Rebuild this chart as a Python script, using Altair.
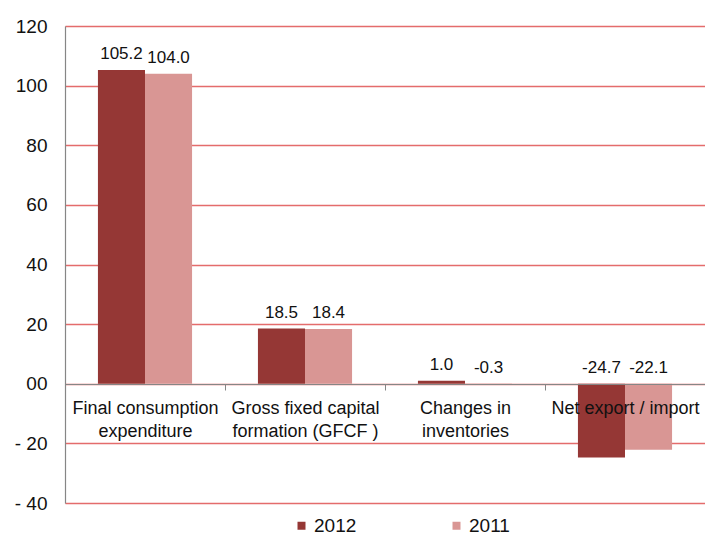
import altair as alt
import pandas as pd

categories = ["Final consumption|expenditure", "Gross fixed capital|formation (GFCF )",
              "Changes in|inventories", "Net export / import"]
years = ["2012", "2011"]
values_2012 = [105.2, 18.5, 1.0, -24.7]
values_2011 = [104.0, 18.4, -0.3, -22.1]

rows = []
for i, c in enumerate(categories):
    rows.append({"cat": c, "year": "2012", "value": values_2012[i]})
    rows.append({"cat": c, "year": "2011", "value": values_2011[i]})
df = pd.DataFrame(rows)

FONT = "Liberation Sans"
colors = ["#953735", "#D99694"]

x_enc = alt.X("cat:N", sort=categories,
              scale=alt.Scale(paddingInner=0, paddingOuter=0),
              axis=alt.Axis(title=None, labelAngle=0, labelExpr="split(datum.label, '|')",
                            labelFont=FONT, labelFontSize=18, labelColor="#111",
                            labelLineHeight=23, labelPadding=9, labelBaseline="top",
                            tickBand="extent", tickSize=6, tickColor="#868686",
                            domainColor="#868686", domainWidth=1.2,
                            offset=-119, zindex=1, grid=False))
xoff_enc = alt.XOffset("year:N", sort=years,
                       scale=alt.Scale(domain=years, paddingInner=0, paddingOuter=0.7))

bars = alt.Chart(df).mark_bar().encode(
    x=x_enc,
    xOffset=xoff_enc,
    y=alt.Y("value:Q",
            scale=alt.Scale(domain=[-40, 120], nice=False, zero=False),
            axis=alt.Axis(title=None, values=[-40, -20, 0, 20, 40, 60, 80, 100, 120],
                          labelExpr="datum.value == 0 ? '00' : (datum.value < 0 ? '- ' + abs(datum.value) : datum.label)",
                          labelFont=FONT, labelFontSize=19, labelColor="#111",
                          labelPadding=18, ticks=False,
                          domainColor="#868686", domainWidth=1.2,
                          grid=True, gridColor="#E46C6C", gridWidth=1.6)),
    color=alt.Color("year:N", sort=years,
                    scale=alt.Scale(domain=years, range=colors),
                    legend=alt.Legend(title=None, orient="none", direction="horizontal",
                                      legendX=227, legendY=490,
                                      symbolType="square", symbolSize=64,
                                      symbolStrokeWidth=0, labelOffset=3,
                                      labelFont=FONT, labelFontSize=19, labelColor="#111",
                                      columnPadding=90)),
)

labels = alt.Chart(df).transform_calculate(
    pos="max(datum.value, 0)",
    txt="replace(format(datum.value, '.1f'), '\u2212', '-')"
).mark_text(font=FONT, fontSize=17, color="#111", baseline="middle", dy=-16).encode(
    x=alt.X("cat:N", sort=categories),
    xOffset=alt.XOffset("year:N", sort=years),
    y=alt.Y("pos:Q"),
    text="txt:N",
)

chart = alt.layer(bars, labels).properties(
    width=640, height=477,
    autosize=alt.AutoSizeParams(type="none"),
    padding={"left": 57, "top": 18, "right": 0, "bottom": 34},
).configure_view(stroke=None).configure(background="white")

chart.save("out.html", embed_options={"renderer": "svg", "actions": False})
